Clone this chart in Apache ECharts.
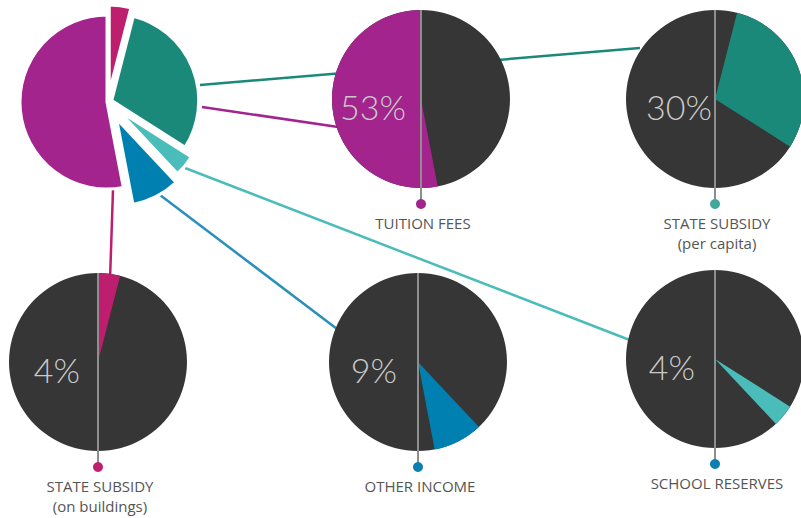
<!DOCTYPE html>
<html>
<head>
<meta charset="utf-8">
<script src="https://cdn.jsdelivr.net/npm/echarts@6/dist/echarts.min.js"></script>
<style>
  html, body { margin: 0; padding: 0; background: #fff; }
  #chart { width: 801px; height: 518px; }
</style>
</head>
<body>
<div id="chart"></div>
<script>
// 数据：从顶部顺时针排列
const categories = ['STATE SUBSIDY\n(on buildings)', 'STATE SUBSIDY\n(per capita)', 'SCHOOL RESERVES', 'OTHER INCOME', 'TUITION FEES'];
const values = [4, 30, 4, 9, 53];
const pctLabels = values.map(v => v + '%');

// 样式 / 布局
const sliceColors = ['#be1e6e', '#1b897a', '#4abcba', '#0080b0', '#a3248d'];
const dotColors = ['#be1e6e', '#3fa89a', '#0a7fb0', '#0a7fb0', '#a3248d'];
const lineColors = ['#be1e6e', '#1b897a', '#4abcba', '#2a8fbd', '#a3248d'];
const explode = [10, 4, 13, 19, 1];
const mainCenter = [108, 102];
const mainR = 87;
const smallR = 89;
const smallCenters = [[98, 362], [715, 99], [715, 359], [418, 362], [421, 99]];
const pctRight = [80, 712, 695, 397, 406];
// 连接线 [x1, y1, x2, y2]
const links = [[113, 190, 110, 280], [200, 85, 640, 48], [185, 168, 640, 344], [160, 195, 345, 335], [202, 107, 345, 128]];
const DARK = '#363636';
const HIDE = 'rgba(0,0,0,0)';

const chart = echarts.init(document.getElementById('chart'), null, { renderer: 'svg' });

const series = [];

// 主饼图：每个扇区一个系列，方便分别设置偏移
categories.forEach((name, i) => {
  series.push({
    type: 'pie',
    silent: true,
    center: mainCenter,
    radius: [0, mainR],
    startAngle: 90,
    selectedMode: 'single',
    selectedOffset: explode[i],
    label: { show: false },
    labelLine: { show: false },
    animation: false,
    z: 3,
    data: values.map((v, j) => ({
      name: categories[j],
      value: v,
      selected: j === i,
      itemStyle: j === i
        ? { color: sliceColors[j], borderColor: '#fff', borderWidth: 3 }
        : { color: HIDE, borderWidth: 0 }
    }))
  });
});

// 小饼图
categories.forEach((name, i) => {
  // 底色圆
  series.push({
    type: 'pie',
    silent: true,
    center: smallCenters[i],
    radius: [0, smallR],
    label: { show: false },
    labelLine: { show: false },
    animation: false,
    z: 3,
    data: [{ value: 1, itemStyle: { color: DARK } }]
  });
  series.push({
    type: 'pie',
    silent: true,
    center: smallCenters[i],
    radius: [0, smallR],
    startAngle: 90,
    label: { show: false },
    labelLine: { show: false },
    animation: false,
    z: 4,
    data: values.map((v, j) => ({
      name: categories[j],
      value: v,
      itemStyle: { color: j === i ? sliceColors[j] : HIDE, borderWidth: 0 }
    }))
  });
});

const graphic = [];
links.forEach((l, i) => {
  graphic.push({
    type: 'line', z: 1, silent: true,
    shape: { x1: l[0], y1: l[1], x2: l[2], y2: l[3] },
    style: { stroke: lineColors[i], lineWidth: 2.5 }
  });
});
smallCenters.forEach((c, i) => {
  const [cx, cy] = c;
  graphic.push({
    type: 'line', z: 10, silent: true,
    shape: { x1: cx, y1: cy - smallR, x2: cx, y2: cy + smallR + 16 },
    style: { stroke: '#8e8e8e', lineWidth: 2 }
  });
  graphic.push({
    type: 'circle', z: 11, silent: true,
    shape: { cx: cx, cy: cy + smallR + 16, r: 5 },
    style: { fill: dotColors[i] }
  });
  graphic.push({
    type: 'text', z: 11, silent: true,
    x: pctRight[i], y: cy + 7,
    style: {
      text: pctLabels[i],
      fill: '#c9c9c9',
      font: '300 34px Lato, "Open Sans", sans-serif',
      align: 'right',
      verticalAlign: 'middle'
    }
  });
  categories[i].split('\n').forEach((line, k) => {
    graphic.push({
      type: 'text', z: 11, silent: true,
      x: cx + 2, y: cy + smallR + 35 + k * 20,
      style: {
        text: line,
        fill: '#555',
        font: '15px "Open Sans", Lato, sans-serif',
        align: 'center',
        verticalAlign: 'middle'
      }
    });
  });
});

chart.setOption({
  animation: false,
  series: series,
  graphic: graphic
});
</script>
</body>
</html>
